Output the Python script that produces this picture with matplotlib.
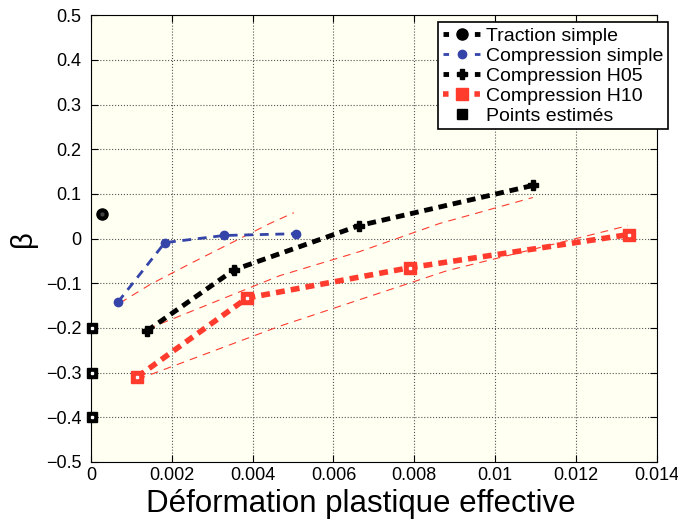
import numpy as np
import matplotlib
matplotlib.use('Agg')
import matplotlib.pyplot as plt

plt.rcParams['font.family'] = ['Liberation Sans', 'DejaVu Sans']

# data
traction_x = [0.00027]
traction_y = [0.056]

cs_x = [0.00067, 0.00183, 0.00329, 0.00507]
cs_y = [-0.142, -0.009, 0.007, 0.011]

h05_x = [0.00138, 0.00354, 0.00663, 0.01093]
h05_y = [-0.207, -0.070, 0.029, 0.119]

h10_x = [0.00114, 0.00386, 0.00789, 0.0133]
h10_y = [-0.310, -0.133, -0.065, 0.009]

est_x = [0.00004, 0.00004, 0.00004]
est_y = [-0.2, -0.3, -0.4]

# thin reference curves
fit_a_x = [0.00072, 0.00146, 0.0025, 0.00443, 0.00502]
fit_a_y = [-0.144, -0.103, -0.054, 0.034, 0.058]
fit_b_x = [0.00141, 0.00467, 0.00665, 0.00863, 0.01093]
fit_b_y = [-0.202, -0.083, -0.029, 0.034, 0.092]
fit_c_x = [0.00116, 0.00467, 0.0088, 0.01328]
fit_c_y = [-0.315, -0.196, -0.072, 0.029]

xticks = [0, 0.002, 0.004, 0.006, 0.008, 0.01, 0.012, 0.014]
xlabels = ['0', '0.002', '0.004', '0.006', '0.008', '0.01', '0.012', '0.014']
yticks = np.round(np.arange(-0.5, 0.51, 0.1), 1)
ylabels = ['\u22120.5', '\u22120.4', '\u22120.3', '\u22120.2', '\u22120.1', '0',
           '0.1', '0.2', '0.3', '0.4', '0.5']

red = '#FF3B2E'
blue = '#3444A8'

fig = plt.figure(figsize=(6.78, 5.25), dpi=100)
ax = fig.add_axes([0.134, 0.12, 0.835, 0.851])
ax.set_facecolor('#FFFFF2')

for fx, fy in [(fit_a_x, fit_a_y), (fit_b_x, fit_b_y), (fit_c_x, fit_c_y)]:
    ax.plot(fx, fy, color=red, lw=0.8, dashes=(7, 5.5), zorder=2)

ax.plot(traction_x, traction_y, color='black', ls=(0, (1.8, 1.2)), lw=3.5,
        marker='o', ms=8, mfc='black', mec='black', label='Traction simple', zorder=4)
ax.plot(cs_x, cs_y, color=blue, lw=2, dashes=(3.2, 2.4),
        marker='o', ms=6, mfc=blue, mec=blue, label='Compression simple', zorder=4)
ax.plot(h05_x, h05_y, color='black', lw=3.5, dashes=(1.8, 1.2),
        marker='P', ms=7, mfc='black', mec='black', label='Compression H05', zorder=4)
ax.plot(h10_x, h10_y, color=red, lw=4, dashes=(1.6, 1.1),
        marker='s', ms=9, mfc=red, mec=red, label='Compression H10', zorder=4)
ax.plot(est_x, est_y, ls='none', marker='s', ms=7, mfc='black', mec='black',
        label='Points estimés', zorder=5, clip_on=False)
# small white centres like the reference markers
ax.plot(est_x + h10_x, est_y + h10_y, ls='none', marker='s', ms=1.5, mfc='white',
        mec='white', zorder=6, clip_on=False)
ax.plot(traction_x, traction_y, ls='none', marker='o', ms=2, mfc='#444444',
        mec='#444444', zorder=6)

ax.set_xlim(0, 0.014)
ax.set_ylim(-0.5, 0.5)
ax.set_xticks(xticks)
ax.set_xticklabels(xlabels)
ax.set_yticks(yticks)
ax.set_yticklabels(ylabels)
ax.tick_params(direction='in', top=True, right=True, labelsize=13, length=5, width=0.8)
ax.tick_params(axis='y', pad=7)
ax.grid(True, ls=':', color='#555555', lw=0.8)
for s in ax.spines.values():
    s.set_linewidth(0.8)

ax.set_xlabel('Déformation plastique effective', fontsize=22.5)
ax.xaxis.set_label_coords(0.477, -0.061, transform=ax.transAxes)
ax.xaxis.label.set_va('top')
ax.set_ylabel('\u03b2', fontsize=21, labelpad=6)

hl = 1.9
fs = 14
leg = ax.legend(loc='upper right', bbox_to_anchor=(1.02, 0.984), fontsize=fs,
                handlelength=hl, handletextpad=0.3, labelspacing=0.12,
                borderpad=0.25, borderaxespad=0, fancybox=False, framealpha=1,
                edgecolor='black')
leg.get_frame().set_linewidth(1.2)
# legend handles: short dash, marker, short dash
total = hl * fs
for ln in leg.get_lines():
    if ln.get_linestyle() in ('None', 'none', ''):
        continue
    lw = ln.get_linewidth()
    on = 4.0
    ln.set_dashes((on / lw, (total - 2 * on) / lw, on / lw, 200 / lw))

fig.savefig('out.png', dpi=100)
